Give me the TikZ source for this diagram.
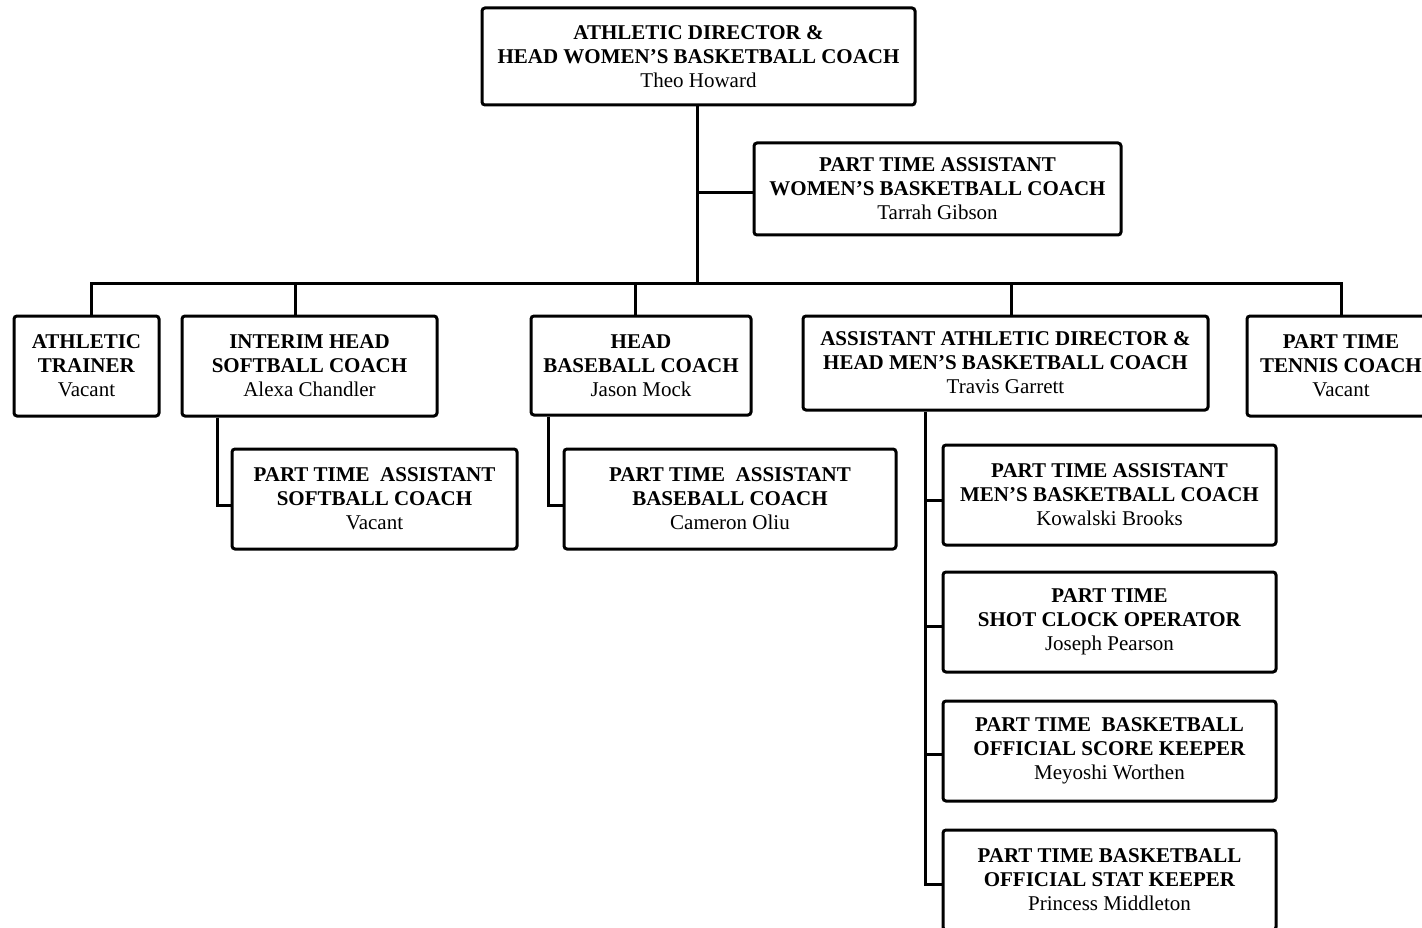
\documentclass[tikz,border=0pt]{standalone}
\usepackage{fontspec}
\setmainfont{Liberation Serif}
\begin{document}
\begin{tikzpicture}[x=1pt,y=-1pt,
  box/.style={draw, line width=3pt, rounded corners=3pt, align=center, inner sep=0pt,
    font=\fontsize{21}{24}\selectfont},
  conn/.style={line width=3pt}]
\useasboundingbox[fill=white] (0,0) rectangle (1422,928);
% top
\node[box, minimum width=433, minimum height=97] (top) at (698.5,56.5)
  {\textbf{ATHLETIC DIRECTOR \&}\\\textbf{HEAD WOMEN’S BASKETBALL COACH}\\Theo Howard};
\node[box, minimum width=367, minimum height=92] (wbb) at (937.5,189)
  {\textbf{PART TIME ASSISTANT}\\\textbf{WOMEN’S BASKETBALL COACH}\\Tarrah Gibson};
% second row
\node[box, minimum width=145, minimum height=100] (at) at (86.5,366)
  {\textbf{ATHLETIC}\\\textbf{TRAINER}\\Vacant};
\node[box, minimum width=255, minimum height=100] (sb) at (309.5,366)
  {\textbf{INTERIM HEAD}\\\textbf{SOFTBALL COACH}\\Alexa Chandler};
\node[box, minimum width=220, minimum height=99] (bb) at (641,365.5)
  {\textbf{HEAD}\\\textbf{BASEBALL COACH}\\Jason Mock};
\node[box, minimum width=405, minimum height=94] (ad) at (1005.5,363)
  {\textbf{ASSISTANT ATHLETIC DIRECTOR \&}\\\textbf{HEAD MEN’S BASKETBALL COACH}\\Travis Garrett};
\node[box, minimum width=188, minimum height=100] (ten) at (1341,366)
  {\textbf{PART TIME}\\\textbf{TENNIS COACH}\\Vacant};
% third row
\node[box, minimum width=285, minimum height=100] (sbc) at (374.5,499)
  {\textbf{PART TIME~ ASSISTANT}\\\textbf{SOFTBALL COACH}\\Vacant};
\node[box, minimum width=332, minimum height=100] (bbc) at (730,499)
  {\textbf{PART TIME~ ASSISTANT}\\\textbf{BASEBALL COACH}\\Cameron Oliu};
\node[box, minimum width=333, minimum height=100] (m1) at (1109.5,495)
  {\textbf{PART TIME ASSISTANT}\\\textbf{MEN’S BASKETBALL COACH}\\Kowalski Brooks};
\node[box, minimum width=333, minimum height=100] (m2) at (1109.5,622)
  {\textbf{PART TIME}\\\textbf{SHOT CLOCK OPERATOR}\\Joseph Pearson};
\node[box, minimum width=333, minimum height=100] (m3) at (1109.5,751)
  {\textbf{PART TIME~ BASKETBALL}\\\textbf{OFFICIAL SCORE KEEPER}\\Meyoshi Worthen};
\node[box, minimum width=333, minimum height=100] (m4) at (1109.5,880)
  {\textbf{PART TIME BASKETBALL}\\\textbf{OFFICIAL STAT KEEPER}\\Princess Middleton};
% connectors
\coordinate (bus) at (0,283);
\coordinate (trunk) at ([xshift=-1.5]top.south);
\coordinate (adtrunk) at ([xshift=-80.5]ad.south);
\draw[conn] (trunk) -- (trunk |- bus);
\draw[conn] ([yshift=-4]wbb.west -| trunk) -- ([yshift=-4]wbb.west);
\draw[conn] ([xshift=4.5]at.north) -- ([xshift=4.5]at.north |- bus) -- (ten.north |- bus) -- (ten.north);
\draw[conn] ([xshift=-14.5]sb.north) -- ([xshift=-14.5]sb.north |- bus);
\draw[conn] ([xshift=-6]bb.north) -- ([xshift=-6]bb.north |- bus);
\draw[conn] ([xshift=5.5]ad.north) -- ([xshift=5.5]ad.north |- bus);
\draw[conn] ([xshift=-92.5]sb.south) |- ([yshift=-6]sbc.west);
\draw[conn] ([xshift=-93]bb.south) |- ([yshift=-6]bbc.west);
\draw[conn] (adtrunk) |- ([yshift=-4]m4.west);
\draw[conn] ([yshift=-5]m1.west -| adtrunk) -- ([yshift=-5]m1.west);
\draw[conn] ([yshift=-4]m2.west -| adtrunk) -- ([yshift=-4]m2.west);
\draw[conn] ([yshift=-3]m3.west -| adtrunk) -- ([yshift=-3]m3.west);
\end{tikzpicture}
\end{document}
